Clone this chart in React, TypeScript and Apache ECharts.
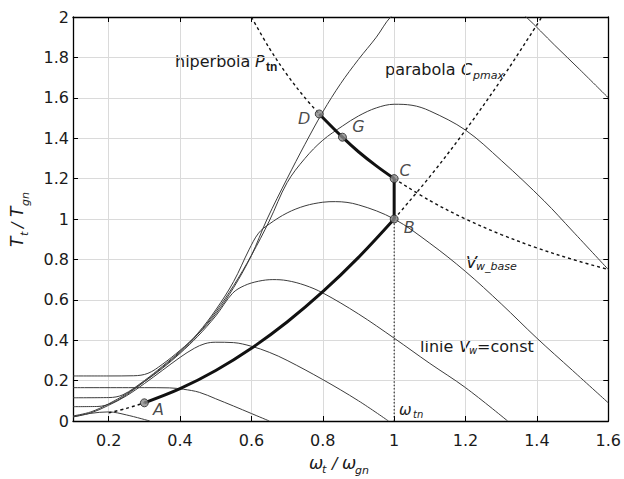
import React, { useEffect, useRef } from "react";
import * as echarts from "echarts";

// Axis ticks
const xTicks = [0.2, 0.4, 0.6, 0.8, 1, 1.2, 1.4, 1.6];
const yMin = 0;
const yMax = 2;
const yStep = 0.2;

// Turbine torque curves T_t/T_gn against w_t/w_gn, one per constant wind speed
const windTop = [
  [0.1, 0.223], [0.2, 0.223], [0.27, 0.224], [0.31, 0.236], [0.35, 0.28], [0.4, 0.35],
  [0.45, 0.43], [0.5, 0.53], [0.55, 0.66], [0.6, 0.82], [0.644, 1.0], [0.7, 1.2],
  [0.75, 1.37], [0.8, 1.53], [0.85, 1.67], [0.9, 1.79], [0.95, 1.9], [0.99, 2.0],
  [1.05, 2.09], [1.12, 2.16], [1.18, 2.18], [1.25, 2.15], [1.31, 2.09], [1.37, 2.0],
  [1.45, 1.86], [1.52, 1.74], [1.6, 1.6],
];
const windHigh = [
  [0.1, 0.071], [0.17, 0.072], [0.21, 0.09], [0.25, 0.13], [0.3, 0.195], [0.35, 0.265],
  [0.4, 0.34], [0.45, 0.43], [0.5, 0.54], [0.55, 0.67], [0.6, 0.82], [0.65, 0.99],
  [0.7, 1.18], [0.75, 1.3], [0.8, 1.39], [0.855, 1.46], [0.9, 1.51], [0.95, 1.55],
  [1.0, 1.568], [1.05, 1.563], [1.1, 1.535], [1.2, 1.44], [1.3, 1.29], [1.42, 1.09],
  [1.5, 0.94], [1.6, 0.75],
];
const windBase = [
  [0.1, 0.115], [0.2, 0.116], [0.24, 0.13], [0.3, 0.2], [0.35, 0.27], [0.4, 0.345],
  [0.45, 0.435], [0.5, 0.55], [0.55, 0.69], [0.593, 0.847], [0.62, 0.93], [0.65, 0.975],
  [0.7, 1.03], [0.75, 1.065], [0.8, 1.083], [0.835, 1.086], [0.9, 1.07], [1.0, 1.0],
  [1.1, 0.88], [1.2, 0.74], [1.3, 0.58], [1.4, 0.41], [1.5, 0.25], [1.6, 0.09],
];
const windMid = [
  [0.1, 0.025], [0.15, 0.045], [0.2, 0.085], [0.25, 0.135], [0.3, 0.195], [0.35, 0.26],
  [0.4, 0.335], [0.45, 0.42], [0.5, 0.52], [0.547, 0.632], [0.58, 0.67], [0.62, 0.692],
  [0.66, 0.7], [0.7, 0.695], [0.75, 0.672], [0.8, 0.634], [0.9, 0.53], [1.0, 0.41],
  [1.1, 0.285], [1.2, 0.165], [1.318, 0],
];
const windLow = [
  [0.1, 0.02], [0.15, 0.04], [0.2, 0.078], [0.25, 0.125], [0.3, 0.185], [0.35, 0.25],
  [0.4, 0.315], [0.44, 0.36], [0.47, 0.383], [0.5, 0.39], [0.55, 0.388], [0.6, 0.37],
  [0.65, 0.34], [0.7, 0.3], [0.8, 0.205], [0.9, 0.1], [0.984, 0],
];
const windLower = [
  [0.1, 0.165], [0.3, 0.165], [0.37, 0.164], [0.41, 0.157], [0.454, 0.142], [0.5, 0.11],
  [0.55, 0.074], [0.6, 0.037], [0.65, 0],
];
const windMin = [
  [0.1, 0.021], [0.15, 0.038], [0.2, 0.045], [0.25, 0.03], [0.315, 0],
];

// Parabola C_pmax: dotted ends and the operating track A-B
const parabolaStart = [[0.2, 0.04], [0.25, 0.0625], [0.3, 0.09]];
const trackAB = [
  [0.3, 0.09], [0.4, 0.16], [0.5, 0.25], [0.6, 0.36], [0.7, 0.49], [0.8, 0.64],
  [0.9, 0.81], [1.0, 1.0],
];
const parabolaEnd = [[1.0, 1.0], [1.1, 1.21], [1.2, 1.44], [1.3, 1.69], [1.414, 2.0]];

// Hyperbola P_tn: dotted ends and the operating track D-C
const hyperbolaStart = [[0.6, 2.0], [0.65, 1.846], [0.7, 1.714], [0.75, 1.6], [0.79, 1.52]];
const trackDC = [[0.79, 1.52], [0.855, 1.405], [0.9, 1.333], [0.95, 1.263], [1.0, 1.2]];
const hyperbolaEnd = [
  [1.0, 1.2], [1.1, 1.091], [1.2, 1.0], [1.3, 0.923], [1.4, 0.857], [1.5, 0.8], [1.6, 0.75],
];

// Vertical track C-B and the rated-speed line
const trackCB = [[1.0, 1.2], [1.0, 1.0]];
const ratedSpeed = [[1.0, 0], [1.0, 1.0]];

// Operating points
const pointNames = ["A", "B", "C", "D", "G"];
const pointValues = [[0.3, 0.09], [1.0, 1.0], [1.0, 1.2], [0.79, 1.52], [0.855, 1.405]];
const pointLabelOffsets = [[14, 7], [15, 8], [11, -8], [-15, 5], [16, -11]];

const FONT = "'DejaVu Sans', Verdana, sans-serif";
const INK = "#1a1a1a";

const curve = (data: number[][], width = 1, color = "#3c3c3c", type: any = "solid", z = 2) => ({
  type: "line",
  data,
  showSymbol: false,
  smooth: 0.35,
  silent: true,
  z,
  lineStyle: { color, width, type },
});

const txt = (
  text: string,
  x: number,
  y: number,
  size = 16,
  italic = false,
  extra: any = {}
) => ({
  type: "text",
  x,
  y,
  silent: true,
  style: {
    text,
    fill: INK,
    font: `${italic ? "italic " : ""}${size}px ${FONT}`,
    textVerticalAlign: "middle",
    ...extra,
  },
});

function buildOption() {
  const axisLineStyle = { color: "#000", width: 1.3 };
  return {
    animation: false,
    grid: { left: 73, right: 13, top: 17, bottom: 58, containLabel: false },
    xAxis: [
      {
        type: "value",
        min: 0.1,
        max: 1.6,
        position: "bottom",
        axisLine: { show: true, onZero: false, lineStyle: axisLineStyle },
        axisTick: { show: true, inside: true, length: 5, customValues: xTicks, lineStyle: { color: "#000" } },
        axisLabel: { customValues: xTicks, fontSize: 16, color: INK, margin: 11, fontFamily: FONT },
        splitLine: { show: true, lineStyle: { color: "#dadada", width: 1 } },
      },
      {
        type: "value",
        min: 0.1,
        max: 1.6,
        position: "top",
        axisLine: { show: true, onZero: false, lineStyle: axisLineStyle },
        axisTick: { show: true, inside: true, length: 5, customValues: xTicks, lineStyle: { color: "#000" } },
        axisLabel: { show: false },
        splitLine: { show: false },
      },
    ],
    yAxis: [
      {
        type: "value",
        min: yMin,
        max: yMax,
        interval: yStep,
        position: "left",
        axisLine: { show: true, onZero: false, lineStyle: axisLineStyle },
        axisTick: { show: true, inside: true, length: 5, lineStyle: { color: "#000" } },
        axisLabel: { fontSize: 16, color: INK, margin: 4, fontFamily: FONT },
        splitLine: { show: true, lineStyle: { color: "#dadada", width: 1 } },
      },
      {
        type: "value",
        min: yMin,
        max: yMax,
        interval: yStep,
        position: "right",
        axisLine: { show: true, onZero: false, lineStyle: axisLineStyle },
        axisTick: { show: true, inside: true, length: 5, lineStyle: { color: "#000" } },
        axisLabel: { show: false },
        splitLine: { show: false },
      },
    ],
    series: [
      curve(windTop),
      curve(windHigh),
      curve(windBase),
      curve(windMid),
      curve(windLow),
      curve(windLower),
      curve(windMin),
      curve(parabolaStart, 1.4, "#111", [3, 3], 3),
      curve(parabolaEnd, 1.4, "#111", [3, 3], 3),
      curve(hyperbolaStart, 1.4, "#111", [3, 3], 3),
      curve(hyperbolaEnd, 1.4, "#111", [3, 3], 3),
      curve(ratedSpeed, 1, "#111", [1.5, 2], 3),
      curve(trackAB, 3, "#111", "solid", 4),
      curve(trackDC, 3, "#111", "solid", 4),
      curve(trackCB, 3, "#111", "solid", 4),
      {
        type: "scatter",
        silent: true,
        z: 6,
        symbol: "circle",
        symbolSize: 8,
        itemStyle: { color: "#8a8a8a", borderColor: "#222", borderWidth: 1 },
        data: pointNames.map((name, i) => ({
          name,
          value: pointValues[i],
          label: {
            show: true,
            position: "inside",
            offset: pointLabelOffsets[i],
            formatter: "{b}",
            fontStyle: "italic",
            fontSize: 16,
            color: INK,
            fontFamily: FONT,
          },
        })),
      },
    ],
    graphic: [
      // curve annotations
      txt("hiperbola", 175, 61),
      txt("P", 255, 61, 16, true),
      txt("tn", 266, 67, 10, true, { fontWeight: "bold" }),
      txt("parabola", 385, 69),
      txt("C", 461, 69, 16, true),
      txt("pmax", 473, 75, 11, true),
      txt("V", 466, 262, 16, true),
      txt("w_base", 476, 266, 11, true),
      txt("linie", 420, 346),
      txt("V", 459, 346, 16, true),
      txt("w", 469, 350, 10, true),
      txt("=const", 477, 346),
      txt("\u03c9", 399, 410, 15, true),
      txt("tn", 413, 414, 10, true),
      // x-axis name
      txt("\u03c9", 309, 463, 17, true),
      txt("t", 322, 469, 11, true),
      txt("/", 332, 463, 16, true),
      txt("\u03c9", 342, 463, 17, true),
      txt("gn", 355, 470, 11, true),
      // y-axis name, reading upwards
      {
        type: "group",
        x: 17,
        y: 247,
        rotation: Math.PI / 2,
        silent: true,
        children: [
          txt("T", 0, 0, 17, true),
          txt("t", 11, 7, 11, true),
          txt("/", 19, 0, 16, true),
          txt("T", 30, 0, 17, true),
          txt("gn", 41, 8, 11, true),
        ],
      },
    ],
  };
}

export default function App() {
  const ref = useRef<HTMLDivElement>(null);
  useEffect(() => {
    document.body.style.margin = "0";
    const chart = echarts.init(ref.current!, null, { renderer: "svg" });
    chart.setOption(buildOption() as any);
    return () => chart.dispose();
  }, []);
  return <div ref={ref} style={{ width: 624, height: 479, background: "#fff" }} />;
}
